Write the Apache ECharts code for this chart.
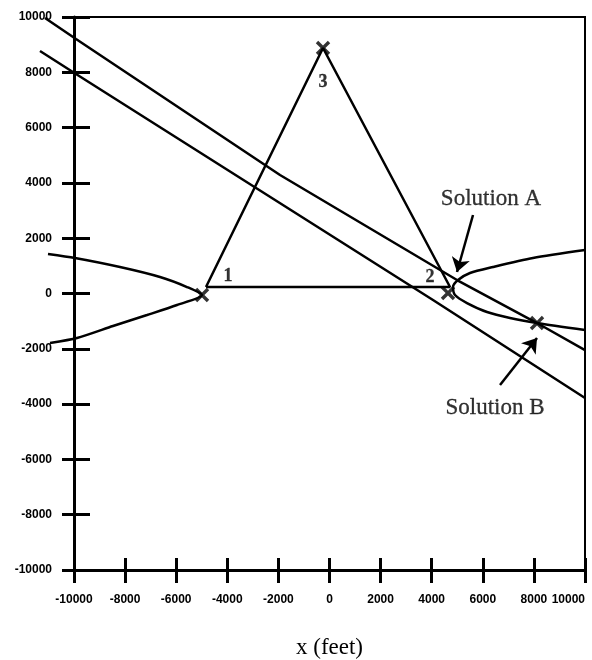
<!DOCTYPE html>
<html>
<head>
<meta charset="utf-8">
<script src="https://cdn.jsdelivr.net/npm/echarts@6/dist/echarts.min.js"></script>
<style>
html, body { margin: 0; background: #fff; }
#chart { width: 592px; height: 660px; }
</style>
</head>
<body>
<div id="chart"></div>
<script>
// axis ticks (feet)
var xTicks = [-10000, -8000, -6000, -4000, -2000, 0, 2000, 4000, 6000, 8000, 10000];
var yTicks = [-10000, -8000, -6000, -4000, -2000, 0, 2000, 4000, 6000, 8000, 10000];

// the two straight lines
var lineA = [[-11135, 9964], [-9922, 9204], [-1937, 4285], [4991, 487], [8122, -1068], [10000, -2045]];
var lineB = [[-11331, 8770], [-9922, 7938], [4051, -236], [10000, -3781]];

// hyperbolas around station 1 and station 2
var hyperLeft = [[-11018, 1428], [-9961, 1283], [-8200, 957], [-6634, 596], [-5577, 234], [-4990, -55],
                 [-5969, -417], [-7143, -779], [-8474, -1177], [-9883, -1611], [-10939, -1791]];
var hyperRight = [[10000, 1572], [7965, 1283], [6400, 957], [5499, 740], [5030, 487], [4834, 234], [4912, -55],
                  [5382, -345], [6165, -670], [7065, -887], [8122, -1068], [10000, -1321]];

// stations 1 - 3 - 2
var triangle = [[-4834, 234], [-254, 8879], [4717, 234], [-4834, 234]];

// X marks: station 1, station 3, station 2, solution B
var crosses = [[-4990, -55], [-254, 8879], [4638, 17], [8122, -1068]];

// arrows from the captions
var arrows = [
    [[5617, 2838], [4991, 777]],
    [[6674, -3311], [8122, -1611]]
];

var stationNames = ['1', '2', '3'];
var stationLabelPos = [[-3972, 632], [3934, 596], [-254, 7649]];
var captionNames = ['Solution A', 'Solution B'];
var captionPos = [[6321, 3417], [6478, -4142]];

var black = '#000';
var tickFont = { color: black, fontFamily: 'Liberation Sans', fontWeight: 'bold', fontSize: 12 };

var xMin = xTicks[0], xMax = xTicks[xTicks.length - 1], xStep = xTicks[1] - xTicks[0];
var yMin = yTicks[0], yMax = yTicks[yTicks.length - 1], yStep = yTicks[1] - yTicks[0];

// the curves run a little past the left axis, so they sit on a second,
// hidden grid whose x range starts further left but keeps the same scale
var plotLeft = 74, plotRight = 7, plotTop = 17, plotBottom = 90;
var plotWidth = 592 - plotLeft - plotRight;
var xWideMin = -11600;
var wideLeft = plotLeft - (xMin - xWideMin) * plotWidth / (xMax - xMin);

function plain(v) { return String(v); }

function curve(data, smooth) {
    return {
        type: 'line',
        xAxisIndex: 2,
        yAxisIndex: 2,
        data: data,
        showSymbol: false,
        smooth: smooth,
        clip: false,
        lineStyle: { color: black, width: 2.5 },
        silent: true
    };
}

function textSeries(names, pos, size, weight) {
    return {
        type: 'scatter',
        symbolSize: 1,
        itemStyle: { color: 'rgba(0,0,0,0)' },
        clip: false,
        silent: true,
        data: names.map(function (n, i) { return { name: n, value: pos[i] }; }),
        label: {
            show: true,
            position: 'inside',
            formatter: '{b}',
            color: black,
            fontFamily: 'Liberation Serif',
            fontWeight: weight,
            fontSize: size,
            textBorderColor: black,
            textBorderWidth: 0.3
        }
    };
}

var myChart = echarts.init(document.getElementById('chart'));
myChart.setOption({
    animation: false,
    backgroundColor: '#fff',
    grid: [{
        left: plotLeft, right: plotRight, top: plotTop, bottom: plotBottom,
        outerBoundsMode: 'none',
        containLabel: false,
        show: true,
        borderColor: black,
        borderWidth: 2
    }, {
        left: wideLeft, right: plotRight, top: plotTop, bottom: plotBottom,
        outerBoundsMode: 'none',
        containLabel: false,
        show: false
    }],
    xAxis: [{
        type: 'value', min: xMin, max: xMax, interval: xStep, position: 'bottom',
        axisLine: { onZero: false, lineStyle: { color: black, width: 3 } },
        axisTick: { length: 13, lineStyle: { color: black, width: 3 } },
        axisLabel: Object.assign({ margin: 24, formatter: plain, showMinLabel: true, showMaxLabel: true,
                                   hideOverlap: false, alignMaxLabel: 'right' }, tickFont),
        splitLine: { show: false },
        name: 'x (feet)',
        nameLocation: 'middle',
        nameGap: 66,
        nameTextStyle: { color: black, fontFamily: 'Liberation Serif', fontSize: 23 }
    }, {
        type: 'value', min: xMin, max: xMax, interval: xStep, position: 'bottom',
        axisLine: { show: false, onZero: false },
        axisTick: { inside: true, length: 12, lineStyle: { color: black, width: 3 } },
        axisLabel: { show: false },
        splitLine: { show: false }
    }, {
        type: 'value', gridIndex: 1, min: xWideMin, max: xMax, show: false
    }],
    yAxis: [{
        type: 'value', min: yMin, max: yMax, interval: yStep, position: 'left',
        axisLine: { onZero: false, lineStyle: { color: black, width: 3 } },
        axisTick: { length: 12, lineStyle: { color: black, width: 3 } },
        axisLabel: Object.assign({ margin: 22, formatter: plain }, tickFont),
        splitLine: { show: false }
    }, {
        type: 'value', min: yMin, max: yMax, interval: yStep, position: 'left',
        axisLine: { show: false, onZero: false },
        axisTick: { inside: true, length: 16, lineStyle: { color: black, width: 3 } },
        axisLabel: { show: false },
        splitLine: { show: false }
    }, {
        type: 'value', gridIndex: 1, min: yMin, max: yMax, show: false
    }],
    series: [
        curve(lineA, false),
        curve(lineB, false),
        curve(hyperLeft, 0.25),
        curve(hyperRight, 0.25),
        curve(triangle, false),
        {
            type: 'scatter',
            data: crosses,
            symbol: 'path://M4,0h2v4h4v2h-4v4h-2v-4h-4v-2h4z',
            symbolSize: 17,
            symbolRotate: 45,
            itemStyle: { color: black },
            clip: false,
            silent: true
        },
        {
            type: 'lines',
            coordinateSystem: 'cartesian2d',
            symbol: ['none', 'arrow'],
            symbolSize: 14,
            lineStyle: { color: black, width: 2.5, opacity: 1, curveness: 0 },
            data: arrows.map(function (a) { return { coords: a }; })
        },
        textSeries(stationNames, stationLabelPos, 18, 'bold'),
        textSeries(captionNames, captionPos, 23, 'normal')
    ]
});
</script>
</body>
</html>
